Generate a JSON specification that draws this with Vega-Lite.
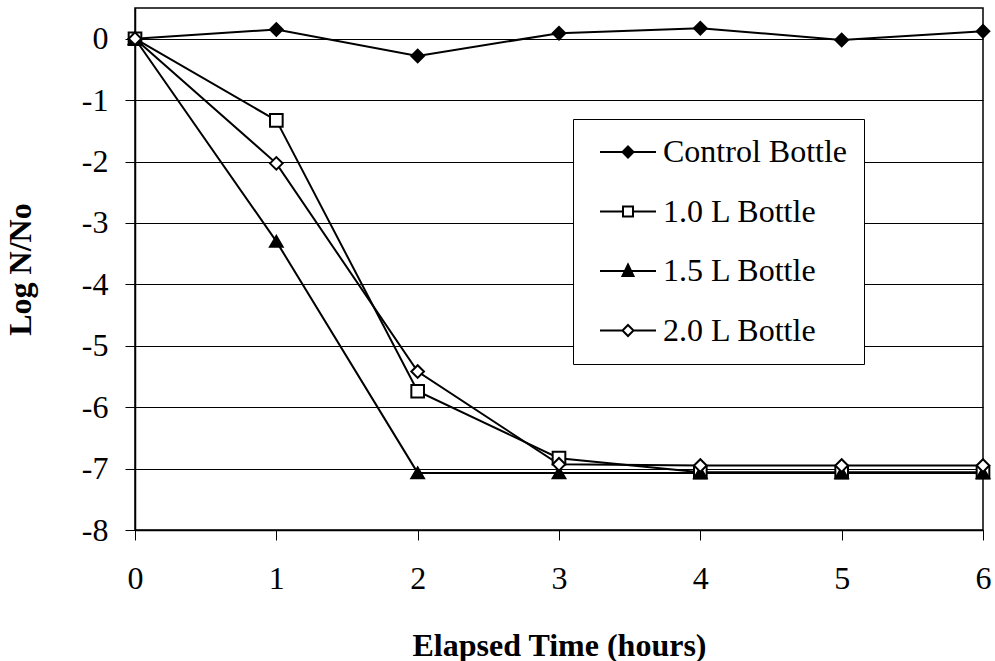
{
  "$schema": "https://vega.github.io/schema/vega-lite/v6.json",
  "autosize": "none",
  "width": 848,
  "height": 522,
  "padding": {"left": 135, "top": 8, "right": 12, "bottom": 131},
  "background": "white",
  "config": {
    "font": "Liberation Serif",
    "view": {"stroke": "black", "strokeWidth": 1.5},
    "axis": {"labelFont": "Liberation Serif", "titleFont": "Liberation Serif", "labelColor": "black", "titleColor": "black"},
    "legend": {
      "orient": "none", "legendX": 438, "legendY": 111,
      "strokeColor": "black", "fillColor": "white", "padding": 17,
      "labelFontSize": 32, "labelFont": "Liberation Serif", "labelColor": "black",
      "labelOffset": 41, "rowPadding": 27.5, "symbolSize": 784, "symbolStrokeWidth": 2,
      "symbolStrokeColor": "black", "symbolOpacity": 1, "labelLimit": 400
    }
  },
  "data": {
    "values": [
      {"t": 0, "v": 0, "series": "Control Bottle"},
      {"t": 1, "v": 0.15, "series": "Control Bottle"},
      {"t": 2, "v": -0.28, "series": "Control Bottle"},
      {"t": 3, "v": 0.09, "series": "Control Bottle"},
      {"t": 4, "v": 0.17, "series": "Control Bottle"},
      {"t": 5, "v": -0.02, "series": "Control Bottle"},
      {"t": 6, "v": 0.12, "series": "Control Bottle"},
      {"t": 0, "v": 0, "series": "1.0 L Bottle"},
      {"t": 1, "v": -1.33, "series": "1.0 L Bottle"},
      {"t": 2, "v": -5.74, "series": "1.0 L Bottle"},
      {"t": 3, "v": -6.83, "series": "1.0 L Bottle"},
      {"t": 4, "v": -7.06, "series": "1.0 L Bottle"},
      {"t": 5, "v": -7.06, "series": "1.0 L Bottle"},
      {"t": 6, "v": -7.06, "series": "1.0 L Bottle"},
      {"t": 0, "v": 0, "series": "1.5 L Bottle"},
      {"t": 1, "v": -3.3, "series": "1.5 L Bottle"},
      {"t": 2, "v": -7.07, "series": "1.5 L Bottle"},
      {"t": 3, "v": -7.07, "series": "1.5 L Bottle"},
      {"t": 4, "v": -7.07, "series": "1.5 L Bottle"},
      {"t": 5, "v": -7.07, "series": "1.5 L Bottle"},
      {"t": 6, "v": -7.07, "series": "1.5 L Bottle"},
      {"t": 0, "v": 0, "series": "2.0 L Bottle"},
      {"t": 1, "v": -2.03, "series": "2.0 L Bottle"},
      {"t": 2, "v": -5.42, "series": "2.0 L Bottle"},
      {"t": 3, "v": -6.93, "series": "2.0 L Bottle"},
      {"t": 4, "v": -6.95, "series": "2.0 L Bottle"},
      {"t": 5, "v": -6.95, "series": "2.0 L Bottle"},
      {"t": 6, "v": -6.95, "series": "2.0 L Bottle"}
    ]
  },
  "encoding": {
    "x": {
      "field": "t", "type": "quantitative",
      "scale": {"domain": [0, 6], "nice": false, "zero": false},
      "axis": {
        "title": "Elapsed Time (hours)", "values": [0, 1, 2, 3, 4, 5, 6], "grid": false,
        "domainColor": "black", "domainWidth": 1.5, "tickColor": "black", "tickSize": 10, "tickWidth": 1,
        "labelFontSize": 32, "labelPadding": 23, "labelFlush": false,
        "titleFontSize": 32, "titleFontWeight": "bold", "titlePadding": 36
      }
    },
    "y": {
      "field": "v", "type": "quantitative",
      "scale": {"domain": [-8, 0.5], "nice": false, "zero": false},
      "axis": {
        "title": "Log N/No", "values": [-8, -7, -6, -5, -4, -3, -2, -1, 0], "grid": true,
        "labelExpr": "'' + datum.value",
        "gridColor": "black", "gridWidth": 1, "gridOpacity": 1,
        "domainColor": "black", "domainWidth": 1.5, "tickColor": "black", "tickSize": 10, "tickWidth": 1,
        "labelFontSize": 32, "labelPadding": 17, "labelFlush": false,
        "titleFontSize": 32, "titleFontWeight": "bold", "titlePadding": 44
      }
    }
  },
  "layer": [
    {
      "mark": {"type": "line", "color": "black", "strokeWidth": 2},
      "encoding": {"detail": {"field": "series"}}
    },
    {
      "mark": {"type": "point", "filled": false, "stroke": "black", "strokeWidth": 2, "opacity": 1, "size": 160},
      "encoding": {
        "fill": {
          "condition": {"test": "datum.series === 'Control Bottle' || datum.series === '1.5 L Bottle'", "value": "black"},
          "value": "white"
        },
        "shape": {
          "condition": [
            {"test": "datum.series === 'Control Bottle'", "value": "diamond"},
            {"test": "datum.series === '1.0 L Bottle'", "value": "square"},
            {"test": "datum.series === '1.5 L Bottle'", "value": "triangle-up"}
          ],
          "value": "diamond"
        }
      }
    },
    {
      "transform": [{"filter": "false"}],
      "mark": {"type": "point", "filled": false, "stroke": "black", "color": "black", "strokeWidth": 2, "opacity": 1, "size": 784},
      "encoding": {
        "shape": {
          "field": "series", "type": "nominal",
          "scale": {
            "domain": ["Control Bottle", "1.0 L Bottle", "1.5 L Bottle", "2.0 L Bottle"],
            "range": [
              "M-0.429,0H3.571M1.571,-0.393L1.964,0L1.571,0.393L1.178,0ZM1.571,-0.25L1.821,0L1.571,0.25L1.321,0ZM1.571,-0.107L1.678,0L1.571,0.107L1.464,0Z",
              "M-0.429,0H1.214M1.928,0H3.571M1.214,-0.357H1.928V0.357H1.214Z",
              "M-0.429,0H3.571M1.571,-0.464L1.964,0.357L1.178,0.357ZM1.571,-0.245L1.807,0.247L1.335,0.247ZM1.571,-0.054L1.669,0.152L1.473,0.152Z",
              "M-0.429,0H1.178M1.964,0H3.571M1.571,-0.393L1.964,0L1.571,0.393L1.178,0Z"
            ]
          },
          "legend": {"title": null}
        }
      }
    }
  ]
}
